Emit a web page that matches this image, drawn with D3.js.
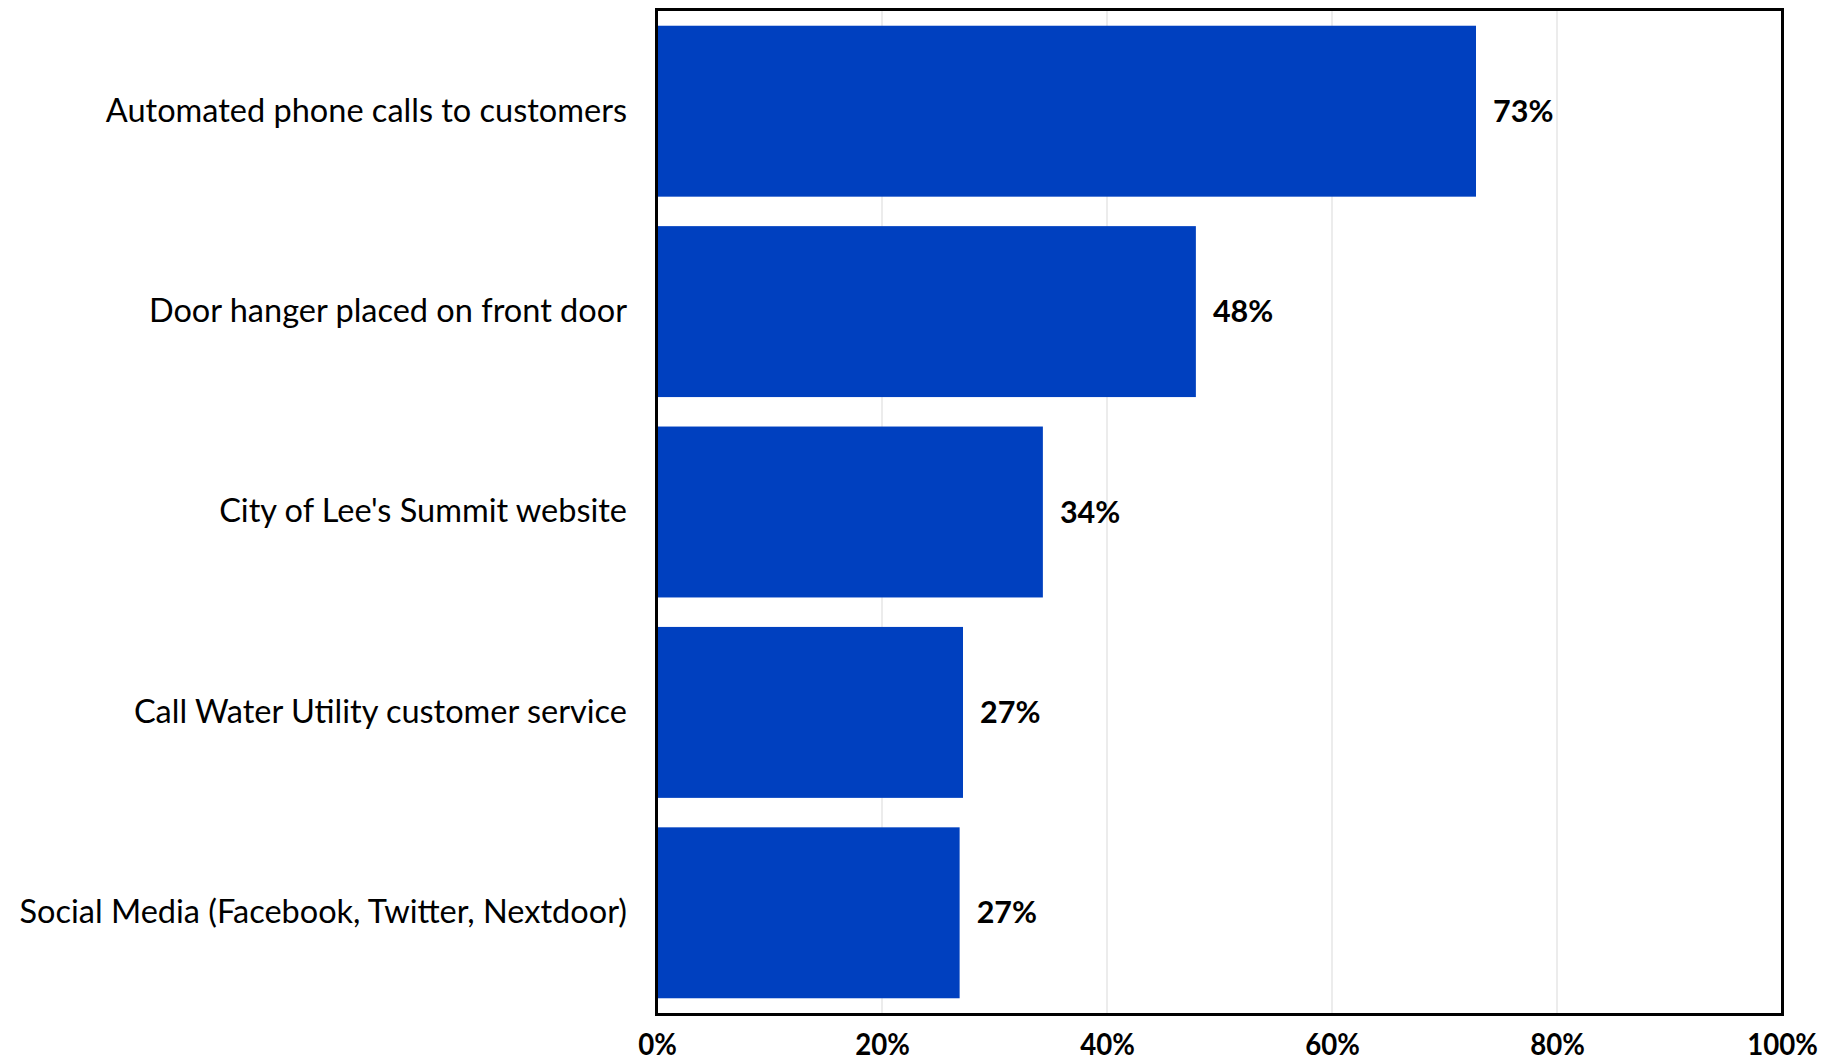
<!DOCTYPE html>
<html>
<head>
<meta charset="utf-8">
<script src="https://cdn.jsdelivr.net/npm/d3@7"></script>
<style>
  html, body { margin: 0; padding: 0; background: #fff; }
  svg { display: block; font-family: Lato, "Open Sans", sans-serif; }
</style>
</head>
<body>
<svg id="chart"></svg>
<script>
const categories = [
  "Automated phone calls to customers",
  "Door hanger placed on front door",
  "City of Lee's Summit website",
  "Call Water Utility customer service",
  "Social Media (Facebook, Twitter, Nextdoor)"
];
const values = [72.8, 47.9, 34.3, 27.2, 26.9];
const valueLabels = ["73%", "48%", "34%", "27%", "27%"];
const xTicks = [0, 20, 40, 60, 80, 100];

const width = 1841;
const height = 1064;
const margin = { top: 11, right: 59, bottom: 51, left: 657 };

const svg = d3.select("#chart").attr("width", width).attr("height", height);

const x = d3.scaleLinear()
  .domain([0, 100])
  .range([margin.left, width - margin.right]);

const y = d3.scaleBand()
  .domain(categories)
  .range([margin.top, height - margin.bottom])
  .paddingInner(0.147)
  .paddingOuter(0.0735);

// Gridlines
svg.append("g")
  .selectAll("line")
  .data(xTicks)
  .join("line")
  .attr("x1", d => x(d))
  .attr("x2", d => x(d))
  .attr("y1", margin.top)
  .attr("y2", height - margin.bottom)
  .attr("stroke", "#e6e6e6")
  .attr("stroke-width", 1.5);

// Bars
svg.append("g")
  .selectAll("rect")
  .data(values)
  .join("rect")
  .attr("x", x(0))
  .attr("y", (d, i) => y(categories[i]))
  .attr("width", d => x(d) - x(0))
  .attr("height", y.bandwidth())
  .attr("fill", "#0040bf");

// Value labels
svg.append("g")
  .selectAll("text")
  .data(values)
  .join("text")
  .attr("x", d => x(d) + 17)
  .attr("y", (d, i) => y(categories[i]) + y.bandwidth() / 2)
  .attr("dy", "0.35em")
  .attr("font-size", 30.5)
  .attr("font-weight", "bold")
  .attr("fill", "#000")
  .text((d, i) => valueLabels[i]);

// Frame
svg.append("rect")
  .attr("x", margin.left - 0.5)
  .attr("y", margin.top - 1.5)
  .attr("width", width - margin.right - margin.left + 1)
  .attr("height", height - margin.bottom - margin.top + 3)
  .attr("fill", "none")
  .attr("stroke", "#000")
  .attr("stroke-width", 3);

// Y axis labels
const yAxis = d3.axisLeft(y).tickSize(0).tickPadding(30);
svg.append("g")
  .attr("transform", `translate(${margin.left},0)`)
  .call(yAxis)
  .call(g => g.select(".domain").remove())
  .call(g => g.selectAll("text")
    .attr("font-size", 32.5)
    .attr("font-family", "Lato, sans-serif")
    .attr("fill", "#000"));

// X axis labels (slightly condensed, as in the original)
const xAxis = d3.axisBottom(x)
  .tickValues(xTicks)
  .tickFormat(d => d + "%")
  .tickSize(0)
  .tickPadding(21);
svg.append("g")
  .attr("transform", `translate(0,${height - margin.bottom})`)
  .call(xAxis)
  .call(g => g.select(".domain").remove())
  .call(g => g.selectAll("text")
    .attr("font-size", 30)
    .attr("font-weight", "bold")
    .attr("font-family", "Lato, sans-serif")
    .attr("transform", "scale(0.92,1)")
    .attr("fill", "#000"));
</script>
</body>
</html>
